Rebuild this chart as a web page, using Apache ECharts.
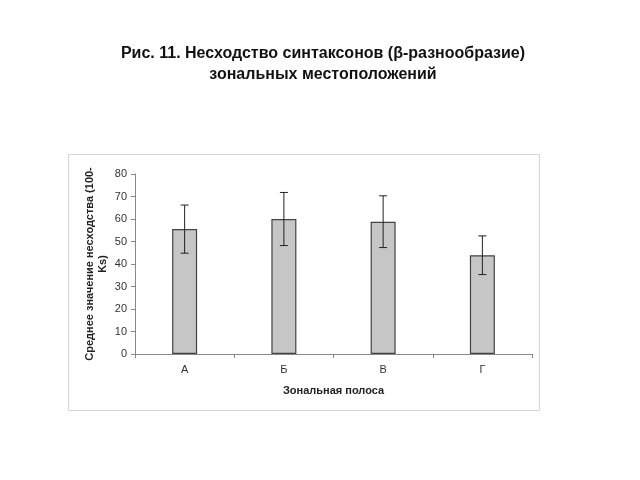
<!DOCTYPE html>
<html><head><meta charset="utf-8">
<script src="https://cdn.jsdelivr.net/npm/echarts@6/dist/echarts.min.js"></script>
<style>html,body{margin:0;padding:0;background:#fff}#c{width:640px;height:480px}</style>
</head><body><div id="c"></div>
<script>
const categories = ['А', 'Б', 'В', 'Г'];
const means = [55.5, 60, 58.8, 43.9];
const errors = [10.7, 11.8, 11.5, 8.6];
const yTicks = [0, 10, 20, 30, 40, 50, 60, 70, 80];

const chart = echarts.init(document.getElementById('c'), null, {renderer: 'canvas'});
const font = 'Liberation Sans, Arial, sans-serif';
chart.setOption({
  animation: false,
  backgroundColor: '#fff',
  title: {
    text: 'Рис. 11. Несходство синтаксонов (β-разнообразие)\nзональных местоположений',
    left: 318, top: 38, textAlign: 'center',
    textStyle: {fontFamily: font, fontSize: 16, fontWeight: 'bold', color: '#111', lineHeight: 21}
  },
  graphic: [{
    type: 'rect', shape: {x: 68.5, y: 154.5, width: 471, height: 256},
    style: {fill: 'none', stroke: '#d4d4d4', lineWidth: 1}, z: -1
  }],
  grid: {left: 135, right: 108, top: 174, bottom: 126},
  xAxis: {
    type: 'category', data: categories,
    axisLine: {lineStyle: {color: '#888'}},
    axisTick: {show: true, alignWithLabel: false, length: 4, lineStyle: {color: '#888'}},
    axisLabel: {fontFamily: font, fontSize: 11, color: '#333', margin: 10},
    name: 'Зональная полоса', nameLocation: 'middle', nameGap: 31,
    nameMoveOverlap: false,
    nameTextStyle: {fontFamily: font, fontSize: 11, fontWeight: 'bold', color: '#222'}
  },
  yAxis: {
    type: 'value', min: yTicks[0], max: yTicks[yTicks.length - 1], interval: 10,
    axisLine: {show: true, lineStyle: {color: '#888'}},
    axisTick: {show: true, length: 4, lineStyle: {color: '#888'}},
    splitLine: {show: false},
    axisLabel: {fontFamily: font, fontSize: 11, color: '#333', margin: 8},
    name: 'Среднее значение несходства (100-\nKs)', nameLocation: 'middle', nameGap: 26, nameRotate: 90,
    nameMoveOverlap: false,
    nameTextStyle: {fontFamily: font, fontSize: 11, fontWeight: 'bold', color: '#222', lineHeight: 13}
  },
  series: [{
    type: 'bar', data: means, barWidth: 25,
    itemStyle: {color: '#c6c6c6', borderColor: '#444', borderWidth: 1.2}
  }, {
    type: 'custom',
    data: means.map((m, i) => [i, m - errors[i], m + errors[i]]),
    renderItem: function (params, api) {
      const x = api.value(0);
      const lo = api.coord([x, api.value(1)]);
      const hi = api.coord([x, api.value(2)]);
      const w = 4;
      const st = {stroke: '#222', lineWidth: 1};
      return {type: 'group', children: [
        {type: 'line', shape: {x1: lo[0], y1: lo[1], x2: hi[0], y2: hi[1]}, style: st},
        {type: 'line', shape: {x1: hi[0] - w, y1: hi[1], x2: hi[0] + w, y2: hi[1]}, style: st},
        {type: 'line', shape: {x1: lo[0] - w, y1: lo[1], x2: lo[0] + w, y2: lo[1]}, style: st}
      ]};
    },
    z: 5
  }]
});
</script></body></html>
